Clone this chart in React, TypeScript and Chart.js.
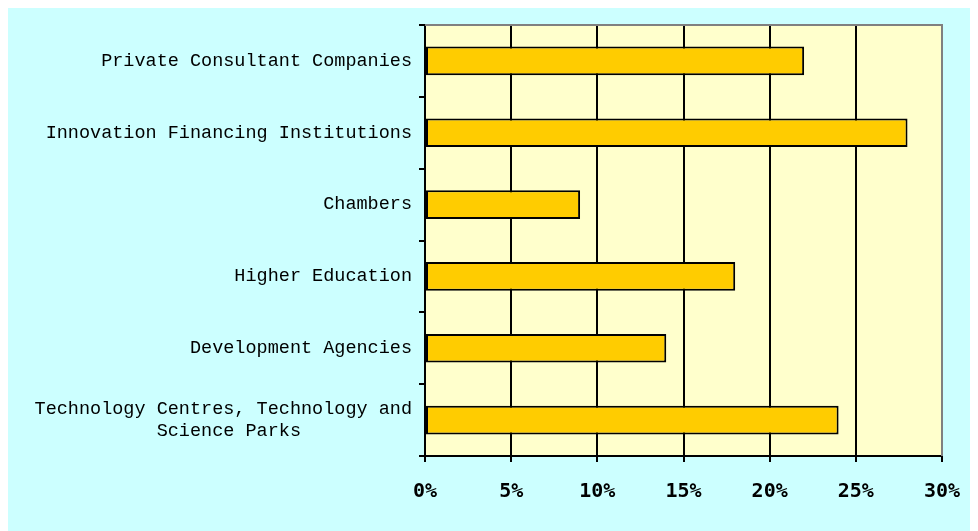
import React, { useEffect, useRef } from 'react';
import { Chart, registerables } from 'chart.js';

Chart.register(...registerables);

const categories: (string | string[])[] = [
  'Private Consultant Companies',
  'Innovation Financing Institutions',
  'Chambers',
  'Higher Education',
  'Development Agencies',
  ['Technology Centres, Technology and', 'Science Parks          '],
];
const shares = [22, 28, 9, 18, 14, 24];
const xMin = 0;
const xMax = 30;
const xStep = 5;
const tickSuffix = '%';

const plotDecor = {
  id: 'plotDecor',
  beforeDraw(chart: any) {
    const { ctx, chartArea: a } = chart;
    ctx.save();
    ctx.fillStyle = '#FFFFCC';
    ctx.fillRect(a.left, a.top, a.right - a.left, a.bottom - a.top);
    ctx.restore();
  },
  afterDraw(chart: any) {
    const { ctx, chartArea: a } = chart;
    ctx.save();
    ctx.strokeStyle = '#808080';
    ctx.lineWidth = 2;
    ctx.beginPath();
    ctx.moveTo(a.left, a.top);
    ctx.lineTo(a.right, a.top);
    ctx.lineTo(a.right, a.bottom);
    ctx.stroke();
    ctx.restore();
  },
};

export default function App() {
  const ref = useRef<HTMLCanvasElement>(null);
  useEffect(() => {
    if (!ref.current) return;
    const chart = new Chart(ref.current, {
      type: 'bar',
      data: {
        labels: categories,
        datasets: [
          {
            data: shares,
            backgroundColor: '#FFCC00',
            borderColor: '#000000',
            borderWidth: 2,
            borderSkipped: false,
            barPercentage: 0.4,
            categoryPercentage: 1,
          },
        ],
      },
      options: {
        indexAxis: 'y',
        animation: false,
        responsive: false,
        maintainAspectRatio: false,
        layout: { padding: { top: 20, right: 36, left: 0, bottom: 0 } },
        plugins: { legend: { display: false }, tooltip: { enabled: false } },
        scales: {
          x: {
            min: xMin,
            max: xMax,
            ticks: {
              stepSize: xStep,
              color: '#000',
              padding: 18,
              font: { family: 'DejaVu Sans Mono', weight: 'bold', size: 20 },
              callback: (v: any) => v + tickSuffix,
            },
            grid: {
              color: (c: any) => (c.tick && c.tick.value === xMax ? '#808080' : '#000000'),
              tickColor: '#000000',
              lineWidth: 2,
              tickLength: 6,
            },
            border: { color: '#000000', width: 2 },
            afterFit: (s: any) => {
              s.height = 75;
              s.paddingLeft = 0;
              s.paddingRight = 0;
            },
          },
          y: {
            ticks: {
              color: '#000',
              padding: 7,
              font: { family: 'Liberation Mono', size: 18.5, lineHeight: 1.18 },
            },
            grid: {
              drawOnChartArea: false,
              color: '#000000',
              lineWidth: 2,
              tickLength: 6,
            },
            border: { color: '#000000', width: 2 },
            afterFit: (s: any) => {
              s.width = 417;
              s.paddingTop = 0;
              s.paddingBottom = 0;
            },
          },
        },
      },
      plugins: [plotDecor],
    });
    return () => chart.destroy();
  }, []);
  return (
    <div style={{ position: 'relative', top: -3, width: 970, height: 526, background: '#CCFFFF' }}>
      <canvas ref={ref} width={970} height={526} style={{ display: 'block' }} />
    </div>
  );
}
